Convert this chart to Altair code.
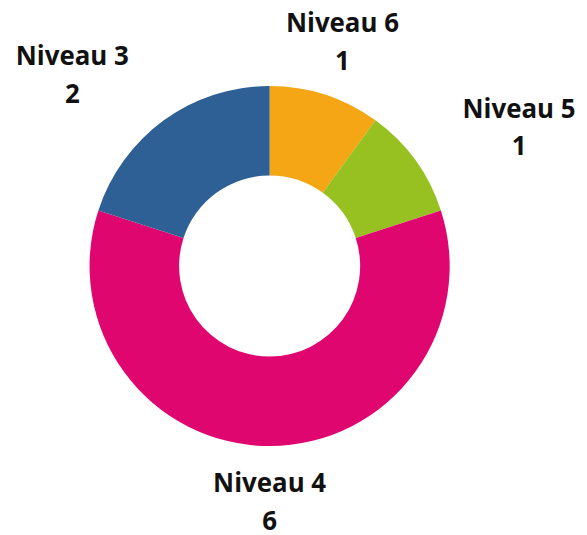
import altair as alt
import pandas as pd

names = ["Niveau 6", "Niveau 5", "Niveau 4", "Niveau 3"]
values = [1, 1, 6, 2]
colors = ["#F4A614", "#97C120", "#E0066F", "#2E6096"]

df = pd.DataFrame({"name": names, "value": values, "rank": list(range(len(names)))})

base = alt.Chart(df)

arc = base.mark_arc(outerRadius=181, innerRadius=91).encode(
    theta=alt.Theta("value:Q", stack=True),
    color=alt.Color("name:N", scale=alt.Scale(domain=names, range=colors), legend=None),
    order=alt.Order("rank:Q", sort="ascending"),
)


def label(field, dy, dx, cond):
    return (
        base.transform_window(
            cum="sum(value)", sort=[alt.SortField("rank")], frame=[None, 0]
        )
        .transform_joinaggregate(total="sum(value)")
        .transform_calculate(
            mid="datum.cum - datum.value/2",
            s="sin(2*PI*(datum.cum - datum.value/2)/datum.total)",
        )
        .transform_filter(cond)
        .mark_text(
            radius=237,
            dx=dx,
            dy=dy,
            font="Open Sans",
            fontSize=26,
            fontWeight="bold",
            color="#111111",
            baseline="alphabetic",
            align="center",
        )
        .encode(theta=alt.Theta("mid:Q", stack=None), text=alt.Text(field))
    )


groups = [
    ("datum.s > 0.5", 59),
    ("datum.s < -0.5", -59),
    ("datum.s >= -0.5 && datum.s <= 0.5", 0),
]
texts = []
for cond, dx in groups:
    texts.append(label("name:N", -10, dx, cond))
    texts.append(label("value:Q", 28, dx, cond))

chart = (
    alt.layer(arc, *texts)
    .properties(
        width=522,
        height=496,
        autosize=alt.AutoSizeParams(type="none"),
        padding={"left": 2, "top": 10, "right": 50, "bottom": 20},
    )
    .configure_view(stroke=None)
)

chart.save("out.html", embed_options={"renderer": "svg", "actions": False})
